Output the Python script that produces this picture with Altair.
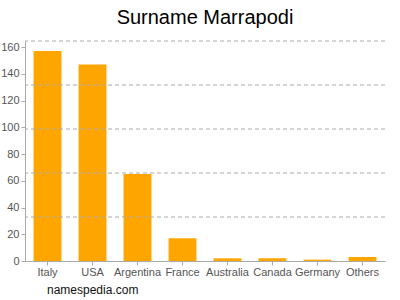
import altair as alt
import pandas as pd

countries = ["Italy", "USA", "Argentina", "France", "Australia", "Canada", "Germany", "Others"]
counts = [157, 147, 65, 17, 2, 2, 1, 3]
y_ticks = [0, 20, 40, 60, 80, 100, 120, 140, 160]
grid_vals = [32.9, 65.8, 98.7, 131.6, 164.5]
y_max = 164.5

df = pd.DataFrame({"country": countries, "count": counts})

W, H = 360, 220

xenc = alt.X("country:N", sort=countries, title=None,
             scale=alt.Scale(paddingInner=0.38, paddingOuter=0.19),
             axis=alt.Axis(labelAngle=0, labelColor="#555555", labelFontSize=11,
                           labelFont="Liberation Sans", domainColor="#aaaaaa",
                           tickColor="#aaaaaa", tickSize=4, labelPadding=1,
                           labelOverlap=False))

y_axis = alt.Axis(values=y_ticks, grid=False, labelColor="#555555",
                  labelFontSize=11, labelFont="Liberation Sans",
                  domainColor="#aaaaaa", tickColor="#aaaaaa", tickSize=4,
                  labelOverlap=False, title=None)
y_scale = alt.Scale(domain=[0, y_max], nice=False, zero=True)

bars = alt.Chart(df).mark_bar(color="#FFA500").encode(
    x=xenc,
    y=alt.Y("count:Q", title=None, scale=y_scale, axis=y_axis),
)

grid = alt.Chart(pd.DataFrame({"g": grid_vals})).mark_rule(
    color="#aaaaaa", strokeDash=[4, 3], strokeWidth=1
).encode(y=alt.Y("g:Q", title=None, scale=y_scale, axis=y_axis))

footer = alt.Chart(pd.DataFrame({"t": ["namespedia.com"]})).mark_text(
    align="left", baseline="alphabetic", fontSize=12, font="Liberation Sans", color="#111111"
).encode(x=alt.value(22), y=alt.value(H + 33), text="t:N")

chart = alt.layer(bars, grid, footer).properties(
    width=W, height=H,
    title=alt.TitleParams("Surname Marrapodi", fontSize=20, font="Liberation Sans",
                          fontWeight="normal", color="#000000", anchor="middle", offset=13),
    autosize=alt.AutoSizeParams(type="none"),
    padding={"left": 25, "top": 41, "right": 15, "bottom": 39},
).configure_view(stroke=None)

chart.save("out.html", embed_options={"renderer": "svg", "actions": False})
